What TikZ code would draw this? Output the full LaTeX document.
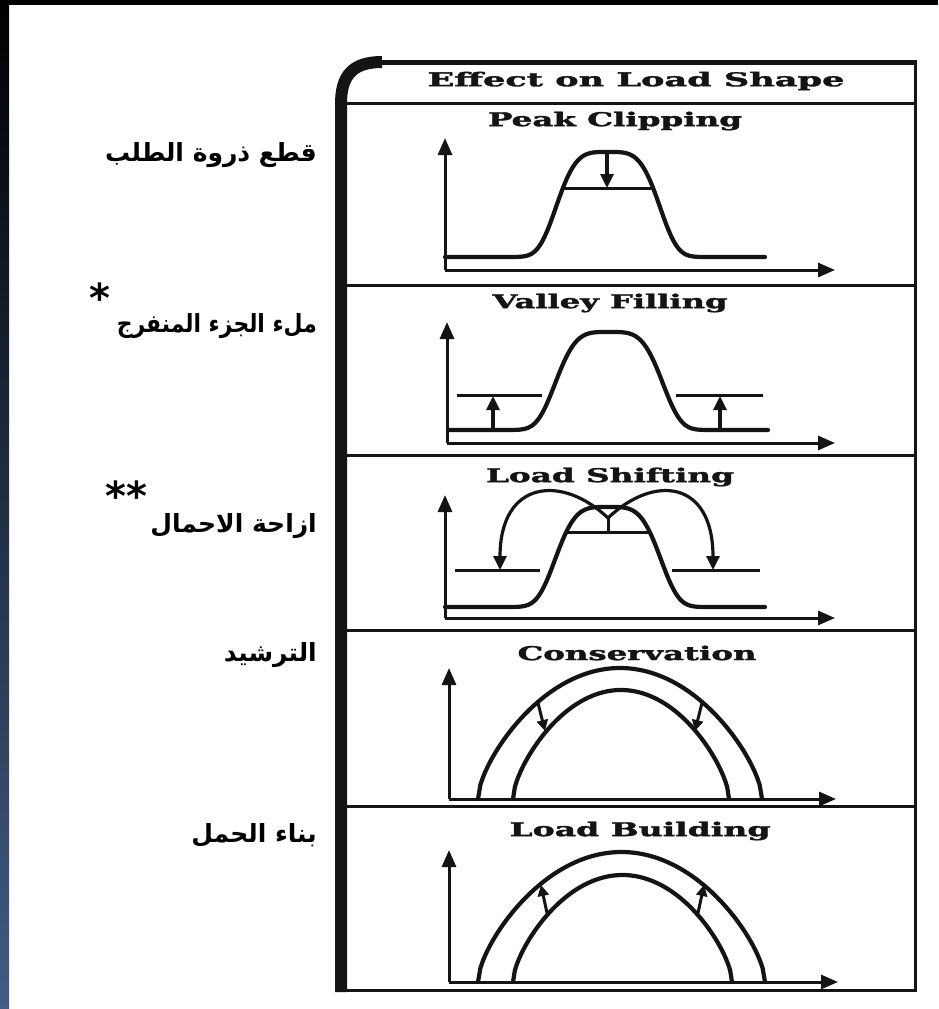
\documentclass[tikz,border=0pt]{standalone}
\usepackage{fontspec}
\usepackage{graphicx}
\newfontfamily\ttlfont[FakeBold=1.6]{DejaVu Serif Bold}
\newfontfamily\arabicfont[Script=Arabic]{DejaVu Sans}
\TeXXeTstate=1
\usepackage{xcolor}
\definecolor{colEdge}{RGB}{66,92,134}
\colorlet{colInk}{black!92}
\usetikzlibrary{arrows.meta}
\newcommand{\fitwidth}[2]{\resizebox{#1}{\height}{#2}}

\begin{document}
\begin{tikzpicture}[x=1pt, y=-1pt,
    declare function={bell(\p,\m,\w)=exp(-(((\p-\m)/\w)*((\p-\m)/\w))*(((\p-\m)/\w)*((\p-\m)/\w)));
      arch(\p,\m,\w)=0.5*max(0,1-((\p-\m)/\w)*((\p-\m)/\w))+0.5*sqrt(max(0,1-((\p-\m)/\w)*((\p-\m)/\w)));},
    frame/.style={line width=3pt, colInk},
    axis/.style={line width=3pt, colInk, -{Triangle[length=17pt, width=14pt]}},
    load/.style={line width=4.2pt, colInk, line cap=round},
    level/.style={line width=3pt, colInk},
    moveArrow/.style={line width=3.2pt, colInk, -{Triangle[length=14pt, width=13pt]}},
    smallArrow/.style={line width=3pt, colInk, -{Triangle[length=11pt, width=11pt]}},
    ttl/.style={font=\ttlfont\fontsize{19}{20}\selectfont, inner sep=0pt, colInk},
    arLabel/.style={font=\arabicfont\bfseries\fontsize{25}{30}\selectfont, anchor=east, inner sep=0pt},
    star/.style={font=\arabicfont\bfseries\fontsize{40}{40}\selectfont, inner sep=0pt}]
				% slide background and edge
				\fill[white] (0,0) rectangle (938,1009);
				\useasboundingbox (0,0) rectangle (938,1009);
				\fill[black] (0,0) rectangle (938,5);
				\shade[top color=black, middle color=black!80!colEdge, bottom color=colEdge] (0,0) rectangle (9,1009);
				% table frame
				\draw[line width=12pt, colInk] (341,992) -- (341,104) .. controls (341,76) and (352,62) .. (382,62);
				\draw[line width=5pt, colInk] (378,62) -- (915,62);
				\draw[frame] (915,60) -- (915,991);
				\draw[frame] (336,990) -- (916.5,990);
				\draw[frame] (341,103) -- (915,103);
				\draw[frame] (341,285) -- (915,285);
				\draw[frame] (341,455) -- (915,455);
				\draw[frame] (341,630) -- (915,630);
				\draw[frame] (341,806) -- (915,806);
				\node[ttl] (head) at (636,81) {\fitwidth{417pt}{Effect on Load Shape}};
				% peak clipping
				\node[ttl] (peak) at (615,121) {\fitwidth{254pt}{Peak Clipping}};
				\draw[axis] (445,270) -- (445,138);
				\draw[axis] (445,270) -- (835,270);
				\draw[load] plot[smooth, samples=90, domain=445:765] (\x, {257-105*bell(\x,608,56)});
				\draw[level] (563,188) -- (653,188);
				\draw[moveArrow] (607,153) -- (607,188);
				% valley filling
				\node[ttl] (valley) at (610,303) {\fitwidth{235pt}{Valley Filling}};
				\draw[axis] (447,443) -- (447,322);
				\draw[axis] (447,443) -- (835,443);
				\draw[load] plot[smooth, samples=90, domain=449:768] (\x, {430-98*bell(\x,609,58)});
				\draw[level] (457,395) -- (542,395);
				\draw[level] (676,395) -- (763,395);
				\draw[moveArrow] (493,430) -- (493,396);
				\draw[moveArrow] (720,430) -- (720,396);
				% load shifting
				\node[ttl] (shifting) at (610,477) {\fitwidth{248pt}{Load Shifting}};
				\draw[axis] (445,618) -- (445,495);
				\draw[axis] (445,618) -- (835,618);
				\draw[load] plot[smooth, samples=90, domain=445:765] (\x, {607-100*bell(\x,608,57)});
				\draw[level] (566,532) -- (650,532);
				\draw[level] (455,570) -- (540,570);
				\draw[level] (672,570) -- (760,570);
				\draw[level] (608,532) -- (608,517);
				\draw[moveArrow] (608,518) .. controls (562,474) and (500,480) .. (500,570);
				\draw[moveArrow] (608,518) .. controls (654,474) and (713,480) .. (713,570);
				% conservation
				\node[ttl] (conserv) at (637,653) {\fitwidth{239pt}{Conservation}};
				\draw[axis] (449,799) -- (449,668);
				\draw[axis] (449,799) -- (836,799);
				\draw[load] plot[samples=120, domain=478:762] (\x, {799-131*arch(\x,620,142)});
				\draw[load] plot[samples=120, domain=513:729] (\x, {799-109*arch(\x,621,108)});
				\coordinate (co1) at (538,703);
				\coordinate (ci1) at (545,731);
				\coordinate (co2) at (702,703);
				\coordinate (ci2) at (695,731);
				\draw[smallArrow] (co1) -- (ci1);
				\draw[smallArrow] (co2) -- (ci2);
				% load building
				\node[ttl] (building) at (640,831) {\fitwidth{261pt}{Load Building}};
				\draw[axis] (449,982) -- (449,850);
				\draw[axis] (449,982) -- (838,982);
				\draw[load] plot[samples=120, domain=478:765] (\x, {982-130*arch(\x,621.5,143.5)});
				\draw[load] plot[samples=120, domain=513:732] (\x, {982-107*arch(\x,622.5,109.5)});
				\coordinate (bi1) at (547,913);
				\coordinate (bo1) at (541,885);
				\coordinate (bi2) at (698,913);
				\coordinate (bo2) at (704,885);
				\draw[smallArrow] (bi1) -- (bo1);
				\draw[smallArrow] (bi2) -- (bo2);
				% arabic names
				\node[arLabel] (lab1) at (317,155) {\beginR قطع ذروة الطلب\endR};
				\node[arLabel] (lab2) at (317,326) {\fitwidth{200pt}{\beginR ملء الجزء المنفرج\endR}};
				\node[star] (st2) at (100,298) {*};
				\node[arLabel] (lab3) at (317,526) {\beginR ازاحة الاحمال\endR};
				\node[star] (st3) at (126,496) {**};
				\node[arLabel] (lab4) at (317,655) {\beginR الترشيد\endR};
				\node[arLabel] (lab5) at (317,835) {\beginR بناء الحمل\endR};
\end{tikzpicture}
\end{document}
